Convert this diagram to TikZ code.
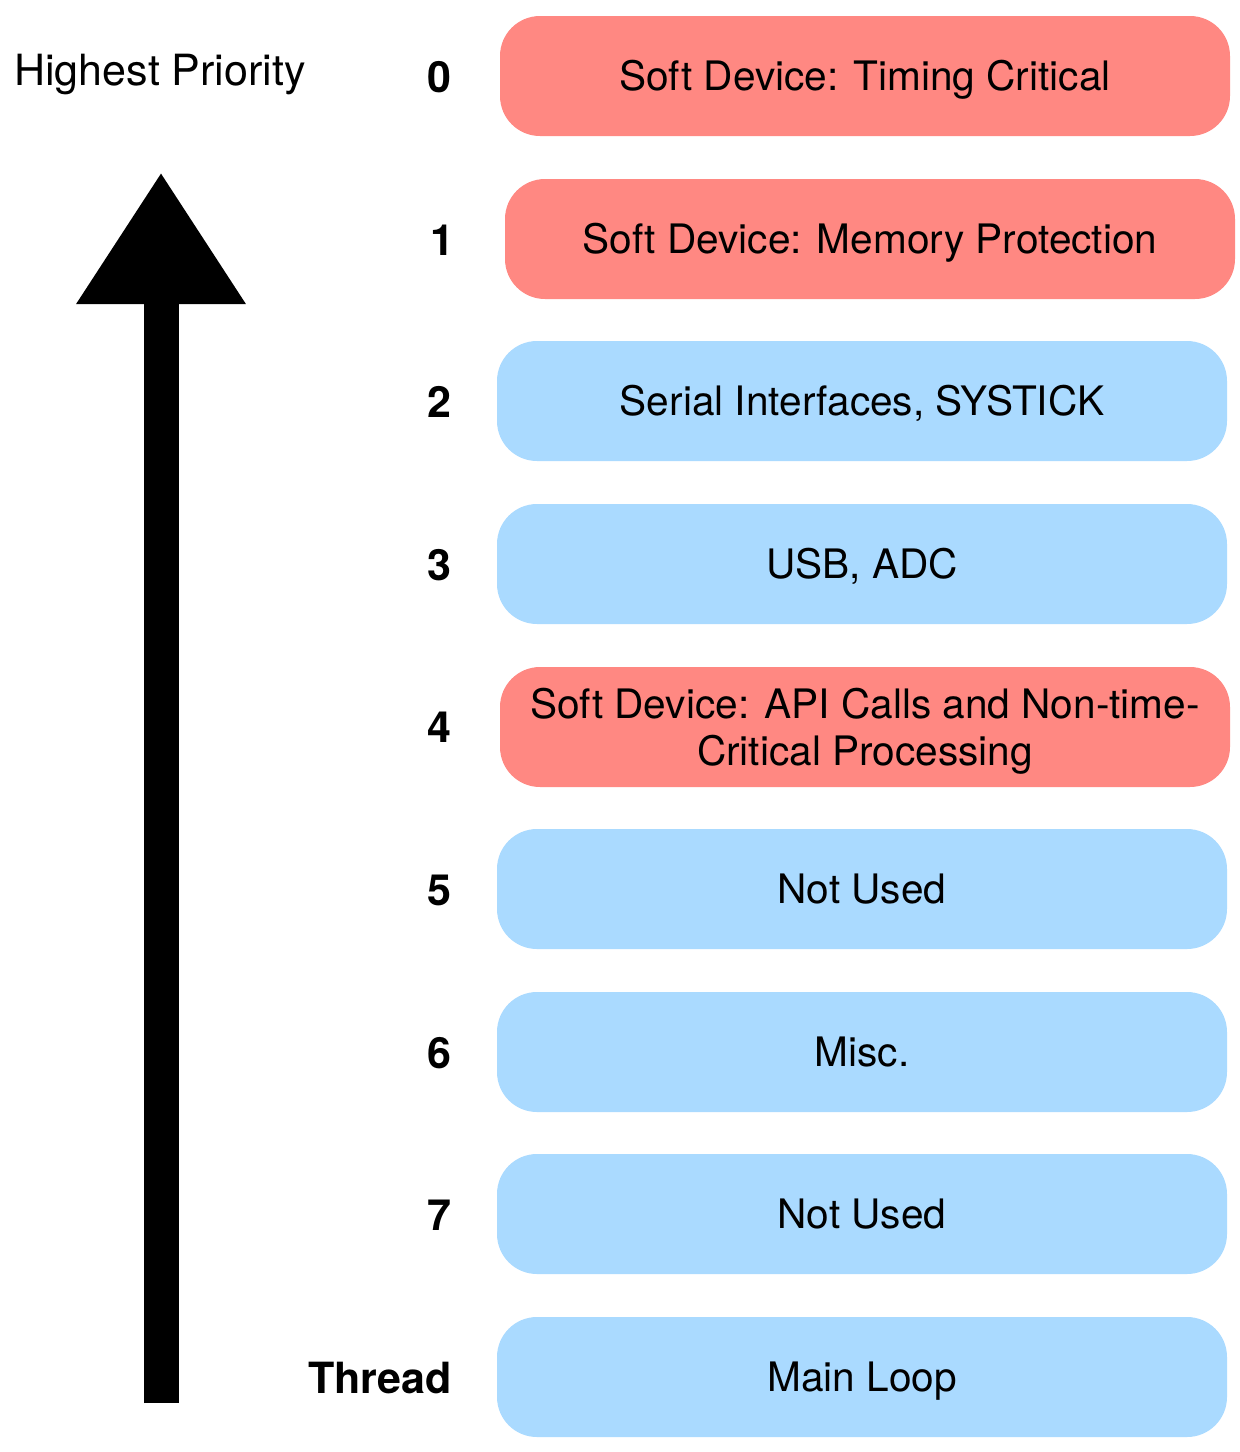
\documentclass[tikz,border=0pt]{standalone}
\usepackage{fontspec}
\setmainfont{TeX Gyre Heros}
\usetikzlibrary{arrows.meta}
\definecolor{softred}{HTML}{FF8882}
\definecolor{irqblue}{HTML}{AADAFF}
\begin{document}
\begin{tikzpicture}[x=0.5pt,y=-0.5pt,
  prio/.style={rectangle,rounded corners=20pt,minimum width=365pt,minimum height=60pt,
    inner sep=0pt,align=center,text height=14.6pt,text depth=0pt,
    font=\fontsize{20.3}{23.5}\selectfont},
  level/.style={anchor=east,inner sep=0pt,font=\fontsize{21.5}{26}\selectfont\bfseries}]

  \useasboundingbox (0,0) rectangle (1240,1452);

  % priority boxes
  \node (p0) at (865,76) [prio,fill=softred]{Soft Device: Timing Critical};
  \node (p1) at (870,239) [prio,fill=softred]{Soft Device: Memory Protection};
  \node (p2) at (862,401) [prio,fill=irqblue]{Serial Interfaces, SYSTICK};
  \node (p3) at (862,564) [prio,fill=irqblue]{USB, ADC};
  \node (p4) at (865,727) [prio,fill=softred,text height=38.1pt]{Soft Device: API Calls and Non-time-\\Critical Processing};
  \node (p5) at (862,889) [prio,fill=irqblue]{Not Used};
  \node (p6) at (862,1052) [prio,fill=irqblue]{Misc.};
  \node (p7) at (862,1214) [prio,fill=irqblue]{Not Used};
  \node (pt) at (862,1377) [prio,fill=irqblue]{Main Loop};

  % level numbers
  \node (l0) at (452,77) [level]{0};
  \node (l1) at (455,240) [level]{1};
  \node (l2) at (452,402) [level]{2};
  \node (l3) at (452,565) [level]{3};
  \node (l4) at (452,727) [level]{4};
  \node (l5) at (452,890) [level]{5};
  \node (l6) at (452,1053) [level]{6};
  \node (l7) at (452,1215) [level]{7};
  \node (lt) at (452,1378) [level]{Thread};

  \node (high) at (160,70) [inner sep=0pt,text height=15.5pt,text depth=0pt,
    font=\fontsize{21.5}{26}\selectfont]{Highest Priority};

  % priority arrow
  \coordinate (tail) at (161,1403);
  \coordinate (tip) at (161,172);
  \draw[line width=17.5pt,-{Triangle[length=66pt,width=80pt]}] (tail) -- (tip);

\end{tikzpicture}
\end{document}
